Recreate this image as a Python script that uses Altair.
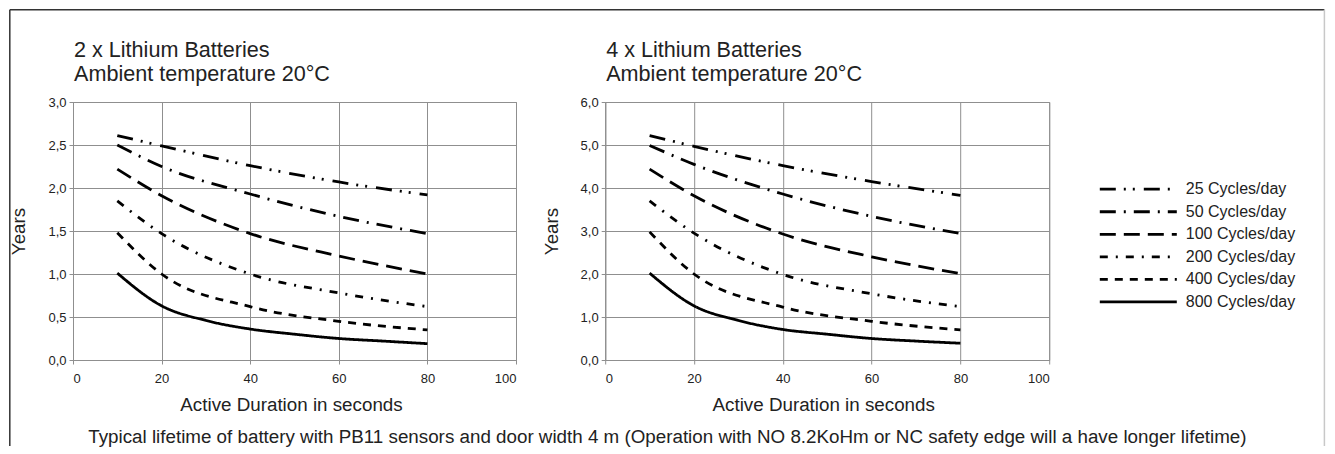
import altair as alt
import pandas as pd

# ---------------- data ----------------
series = ["25 Cycles/day", "50 Cycles/day", "100 Cycles/day",
          "200 Cycles/day", "400 Cycles/day", "800 Cycles/day"]
dashes = [[16, 8, 2, 7, 2, 9], [16, 8, 2, 8], [16, 8], [8, 8, 2, 8], [8, 7], [1, 0]]

x_dashed = [10, 20, 40, 60, 80]
x_solid = [10, 20, 30, 40, 50, 60, 70, 80]

left_25 = [2.61, 2.49, 2.26, 2.07, 1.92]
left_50 = [2.50, 2.25, 1.93, 1.67, 1.47]
left_100 = [2.22, 1.91, 1.47, 1.21, 1.00]
left_200 = [1.85, 1.47, 1.00, 0.78, 0.62]
left_400 = [1.48, 1.00, 0.62, 0.45, 0.35]
left_800 = [1.01, 0.63, 0.46, 0.36, 0.30, 0.25, 0.22, 0.19]

right_25 = [5.22, 4.97, 4.52, 4.15, 3.83]
right_50 = [4.99, 4.55, 3.86, 3.34, 2.94]
right_100 = [4.44, 3.82, 2.93, 2.40, 2.01]
right_200 = [3.70, 2.95, 1.99, 1.54, 1.24]
right_400 = [2.98, 2.00, 1.23, 0.90, 0.70]
right_800 = [2.02, 1.26, 0.92, 0.71, 0.60, 0.50, 0.44, 0.39]

x_ticks = [0, 20, 40, 60, 80, 100]
left_y_ticks = [0, 0.5, 1.0, 1.5, 2.0, 2.5, 3.0]
right_y_ticks = [0, 1, 2, 3, 4, 5, 6]

left_title = ["2 x Lithium Batteries", "Ambient temperature 20°C"]
right_title = ["4 x Lithium Batteries", "Ambient temperature 20°C"]
x_title = "Active Duration in seconds"
y_title = "Years"
caption = ("Typical lifetime of battery with PB11 sensors and door width 4 m "
           "(Operation with NO 8.2KoHm or NC safety edge will a have longer lifetime)")


def build(vals_dashed, vals_solid):
    rows = []
    for name, vals in zip(series[:5], vals_dashed):
        for x, v in zip(x_dashed, vals):
            rows.append({"series": name, "duration": x, "years": v})
    for x, v in zip(x_solid, vals_solid):
        rows.append({"series": series[5], "duration": x, "years": v})
    return pd.DataFrame(rows)


df_left = build([left_25, left_50, left_100, left_200, left_400], left_800)
df_right = build([right_25, right_50, right_100, right_200, right_400], right_800)
legend_lines_df = pd.DataFrame([{"series": s, "lx": p} for s in series for p in (0, 1)])
legend_text_df = pd.DataFrame([{"series": s, "lx": 1} for s in series])

FONT = "Liberation Sans"
GRID = "#8f8f8f"
TXT = "#222222"
SW = 2.8
dash_scale = alt.Scale(domain=series, range=dashes)
one_row = alt.Data(values=[{"caption": caption}])


def lines(df, ymax, yticks):
    return alt.Chart(df).mark_line(
        color="black", strokeWidth=SW, interpolate="monotone", strokeCap="butt"
    ).encode(
        x=alt.X("duration:Q", scale=alt.Scale(domain=[0, 100], nice=False),
                axis=alt.Axis(values=x_ticks, title=x_title, format="d", titleX=218)),
        y=alt.Y("years:Q", scale=alt.Scale(domain=[0, ymax], nice=False),
                axis=alt.Axis(values=yticks, title=y_title,
                              labelExpr="replace(format(datum.value, '.1f'), '.', ',')")),
        strokeDash=alt.StrokeDash("series:N", scale=dash_scale, sort=series, legend=None),
    )


def title_marks(title):
    out = []
    for i, line in enumerate(title):
        out.append(alt.Chart(one_row).mark_text(
            font=FONT, fontSize=21.6, color=TXT, align="left", baseline="alphabetic"
        ).encode(text=alt.value(line), x=alt.value(1), y=alt.value(-45 + 24 * i)))
    return out


# decorative frame + caption (placed relative to the left panel)
BX, BY = -63.2, -92.3
border_top = alt.Chart(one_row).mark_rule(color="#333333", strokeWidth=1.5).encode(
    x=alt.value(BX), x2=alt.value(1251.4), y=alt.value(BY))
border_left = alt.Chart(one_row).mark_rule(color="#333333", strokeWidth=1.5).encode(
    x=alt.value(BX), y=alt.value(BY), y2=alt.value(344))
border_right = alt.Chart(one_row).mark_rule(color="#c8c8c8", strokeWidth=1.5).encode(
    x=alt.value(1251.4), y=alt.value(BY), y2=alt.value(344))
caption_text = alt.Chart(one_row).mark_text(
    font=FONT, fontSize=18.8, color=TXT, align="center", baseline="alphabetic"
).encode(text="caption:N", x=alt.value(594.4), y=alt.value(340.5))

# legend drawn from the series list, through its own scales
leg_x = alt.Scale(domain=[0, 1], range=[494.6, 571.6])
leg_y = alt.Scale(type="point", domain=series, range=[87.2, 199.9], padding=0)
legend_lines = alt.Chart(legend_lines_df).mark_line(
    color="black", strokeWidth=SW, strokeCap="butt"
).encode(
    x=alt.X("lx:Q", scale=leg_x, axis=None),
    y=alt.Y("series:N", scale=leg_y, axis=None),
    strokeDash=alt.StrokeDash("series:N", scale=dash_scale, legend=None),
)
legend_text = alt.Chart(legend_text_df).mark_text(
    font=FONT, fontSize=16, color=TXT, align="left", baseline="middle", dx=9
).encode(
    x=alt.X("lx:Q", scale=leg_x, axis=None),
    y=alt.Y("series:N", scale=leg_y, axis=None),
    text="series:N",
)

left = alt.layer(
    lines(df_left, 3, left_y_ticks), *title_marks(left_title),
    border_top, border_left, border_right, caption_text
).properties(width=443, height=258)

right = alt.layer(
    lines(df_right, 6, right_y_ticks), *title_marks(right_title),
    legend_lines, legend_text
).resolve_scale(x="independent", y="independent").properties(width=444, height=258)

chart = alt.hconcat(left, right, spacing=89.2, bounds="flush").properties(
    padding={"left": 0, "top": 0, "right": 0, "bottom": 0}
).configure_view(stroke=GRID, strokeWidth=1).configure_axis(
    gridColor=GRID, gridWidth=1, domainColor=GRID, tickColor=GRID, tickSize=4,
    labelFont=FONT, labelFontSize=13, labelColor=TXT,
    titleFont=FONT, titleFontSize=18.8, titleFontWeight="normal", titleColor=TXT,
).configure_axisX(titlePadding=10.5, labelPadding=8).configure_axisY(
    titlePadding=19, labelPadding=3)

chart.save("out.html", embed_options={"renderer": "svg", "actions": False})
